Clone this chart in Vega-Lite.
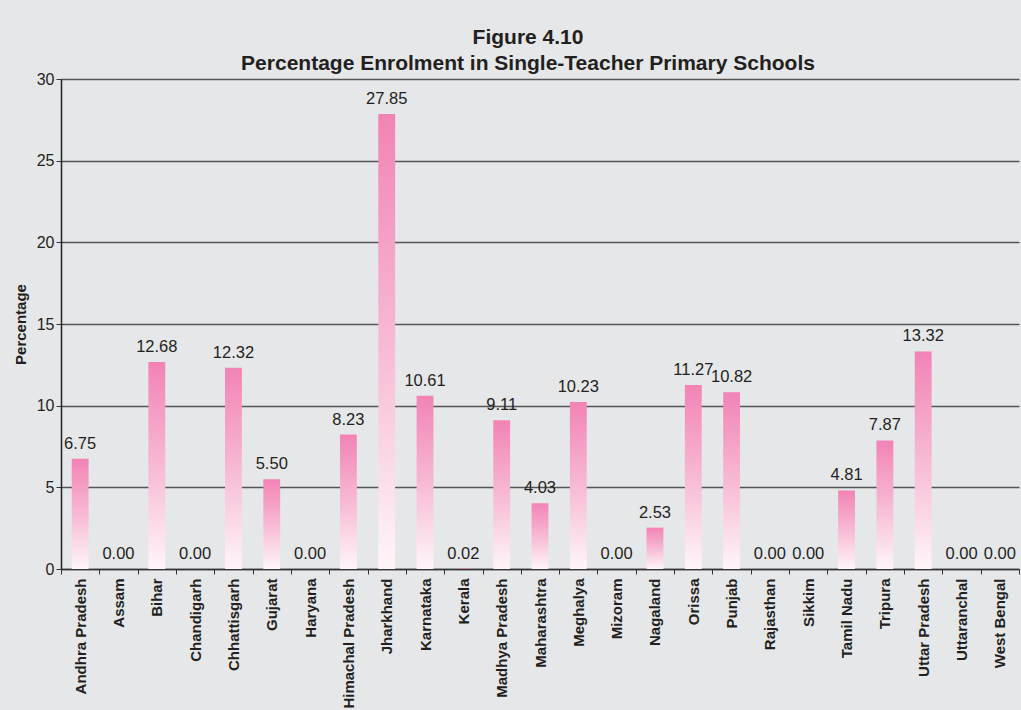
{
  "$schema": "https://vega.github.io/schema/vega-lite/v6.json",
  "autosize": "none",
  "width": 958,
  "height": 490,
  "padding": {"left": 61, "top": 79, "right": 2, "bottom": 141},
  "background": "#e6e7e9",
  "config": {
    "view": {"stroke": null},
    "font": "Liberation Sans"
  },
  "title": {
    "text": ["Figure 4.10", "Percentage Enrolment in Single-Teacher Primary Schools"],
    "font": "Liberation Sans",
    "fontSize": 21,
    "fontWeight": "bold",
    "color": "#231f20",
    "lineHeight": 26,
    "anchor": "middle",
    "dx": -12,
    "offset": 9,
    "dy": 12
  },
  "data": {
    "values": [
      {"state": "Andhra Pradesh", "pct": 6.75},
      {"state": "Assam", "pct": 0.00},
      {"state": "Bihar", "pct": 12.68},
      {"state": "Chandigarh", "pct": 0.00},
      {"state": "Chhattisgarh", "pct": 12.32},
      {"state": "Gujarat", "pct": 5.50},
      {"state": "Haryana", "pct": 0.00},
      {"state": "Himachal Pradesh", "pct": 8.23},
      {"state": "Jharkhand", "pct": 27.85},
      {"state": "Karnataka", "pct": 10.61},
      {"state": "Kerala", "pct": 0.02},
      {"state": "Madhya Pradesh", "pct": 9.11},
      {"state": "Maharashtra", "pct": 4.03},
      {"state": "Meghalya", "pct": 10.23},
      {"state": "Mizoram", "pct": 0.00},
      {"state": "Nagaland", "pct": 2.53},
      {"state": "Orissa", "pct": 11.27},
      {"state": "Punjab", "pct": 10.82},
      {"state": "Rajasthan", "pct": 0.00},
      {"state": "Sikkim", "pct": 0.00},
      {"state": "Tamil Nadu", "pct": 4.81},
      {"state": "Tripura", "pct": 7.87},
      {"state": "Uttar Pradesh", "pct": 13.32},
      {"state": "Uttaranchal", "pct": 0.00},
      {"state": "West Bengal", "pct": 0.00}
    ]
  },
  "encoding": {
    "x": {
      "field": "state",
      "type": "nominal",
      "sort": null,
      "scale": {"paddingInner": 0, "paddingOuter": 0},
      "axis": {
        "title": null,
        "labelAngle": -90,
        "labelFont": "Liberation Sans",
        "labelFontSize": 15,
        "labelFontWeight": "bold",
        "labelColor": "#231f20",
        "labelPadding": 4,
        "labelLimit": 140,
        "tickSize": 5,
        "tickBand": "extent",
        "tickColor": "#333333",
        "domainColor": "#333333",
        "domainWidth": 1.5,
        "labelOverlap": false
      }
    },
    "y": {
      "field": "pct",
      "type": "quantitative",
      "scale": {"domain": [0, 30], "nice": false},
      "axis": {
        "title": "Percentage",
        "titleFont": "Liberation Sans",
        "titleFontSize": 15,
        "titleFontWeight": "bold",
        "titleColor": "#231f20",
        "titlePadding": 8,
        "values": [0, 5, 10, 15, 20, 25, 30],
        "labelFont": "Liberation Sans",
        "labelFontSize": 16,
        "labelColor": "#231f20",
        "labelPadding": 2,
        "tickSize": 5,
        "tickColor": "#333333",
        "domainColor": "#222222",
        "domainWidth": 1.5,
        "grid": true,
        "gridColor": "#555555",
        "gridWidth": 1.3
      }
    }
  },
  "layer": [
    {
      "mark": {
        "type": "bar",
        "width": {"band": 0.44},
        "color": {
          "gradient": "linear",
          "x1": 0, "y1": 0, "x2": 0, "y2": 1,
          "stops": [
            {"offset": 0, "color": "#f283b5"},
            {"offset": 0.5, "color": "#f7b9d4"},
            {"offset": 1, "color": "#fef5f9"}
          ]
        }
      }
    },
    {
      "mark": {
        "type": "text",
        "baseline": "bottom",
        "dy": -7,
        "font": "Liberation Sans",
        "fontSize": 16.5,
        "color": "#231f20"
      },
      "encoding": {
        "text": {"field": "pct", "type": "quantitative", "format": ".2f"}
      }
    }
  ]
}
